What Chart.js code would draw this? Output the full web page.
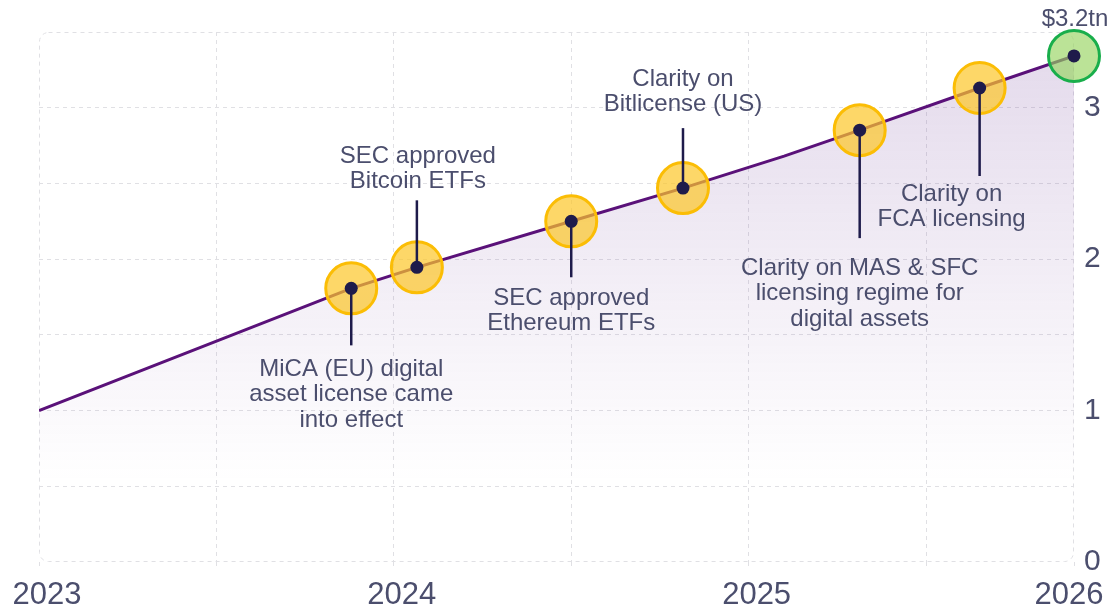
<!DOCTYPE html>
<html>
<head>
<meta charset="utf-8">
<script src="https://cdn.jsdelivr.net/npm/chart.js@4"></script>
<style>
  body { margin: 0; background: #ffffff; }
  #wrap { width: 1114px; height: 609px; }
</style>
</head>
<body>
<div id="wrap"><canvas id="marketChart" width="1114" height="609"></canvas></div>
<script>
// Market size line (trillions USD), x in decimal years
const lineYears = [2023.0, 2023.88, 2024.065, 2024.5, 2024.815, 2025.1, 2025.313, 2025.651, 2025.917];
const lineValues = [1.0, 1.807, 1.946, 2.25, 2.469, 2.68, 2.852, 3.13, 3.342];

// Regulatory milestones on the line
const eventYears = [2023.88, 2024.065, 2024.5, 2024.815, 2025.313, 2025.651, 2025.917];
const eventValues = [1.807, 1.946, 2.25, 2.469, 2.852, 3.13, 3.342];
const eventLabels = [
  ['MiCA (EU) digital', 'asset license came', 'into effect'],
  ['SEC approved', 'Bitcoin ETFs'],
  ['SEC approved', 'Ethereum ETFs'],
  ['Clarity on', 'Bitlicense (US)'],
  ['Clarity on MAS & SFC', 'licensing regime for', 'digital assets'],
  ['Clarity on', 'FCA licensing'],
  ['$3.2tn']
];

// Axis ticks
const xTickValues = [2023, 2023.5, 2024, 2024.5, 2025, 2025.5, 2025.917];
const xTickLabels = ['2023', '', '2024', '', '2025', '', '2026\u00a0\u00a0\u00a0'];
const yTickLabels = { 0: '0', 1: '1', 2: '2', 3: '3' };

// Callout placement (pixels relative to the dot)
const callouts = [
  { leader: 57, textY: 81, dx: 0 },
  { leader: -67, textY: -111, dx: 1 },
  { leader: 56, textY: 77, dx: 0 },
  { leader: -60, textY: -109, dx: 0 },
  { leader: 108, textY: 138, dx: 0 },
  { leader: 88, textY: 106, dx: -28 },
  { leader: 0, textY: -37, dx: 1 }
];

const textColor = '#4b4e6d';
const gridColor = '#e0e0e4';
const navy = '#1e1b4b';

Chart.defaults.font.family = "'Liberation Sans', Arial, sans-serif";
Chart.defaults.color = textColor;

// Dashed rounded frame round the plot area
const framePlugin = {
  id: 'frame',
  beforeDatasetsDraw(chart) {
    const { ctx, chartArea: a } = chart;
    ctx.save();
    ctx.strokeStyle = gridColor;
    ctx.lineWidth = 1;
    ctx.setLineDash([4, 4]);
    ctx.beginPath();
    ctx.roundRect(a.left + 0.5, a.top + 0.5, a.right - a.left - 1, a.bottom - a.top - 1, 9);
    ctx.stroke();
    ctx.restore();
  }
};

// Leader lines and milestone texts, drawn before the small dots
const calloutPlugin = {
  id: 'callouts',
  beforeDatasetDraw(chart, args) {
    if (args.index !== 2) return;
    const { ctx, scales } = chart;
    ctx.save();
    eventYears.forEach((yr, i) => {
      const px = scales.x.getPixelForValue(yr);
      const py = scales.y.getPixelForValue(eventValues[i]);
      const c = callouts[i];
      if (c.leader) {
        ctx.strokeStyle = navy;
        ctx.lineWidth = 2.5;
        ctx.beginPath();
        ctx.moveTo(px, py);
        ctx.lineTo(px, py + c.leader);
        ctx.stroke();
      }
      ctx.fillStyle = textColor;
      ctx.font = "24px 'Liberation Sans', Arial, sans-serif";
      ctx.textAlign = 'center';
      ctx.textBaseline = 'middle';
      eventLabels[i].forEach((line, j) => {
        ctx.fillText(line, px + c.dx, py + c.textY + j * 25.5);
      });
    });
    ctx.restore();
  }
};

const canvas = document.getElementById('marketChart');
const ctx = canvas.getContext('2d');

function areaFill(context) {
  const a = context.chart.chartArea;
  if (!a) return 'rgba(120, 70, 160, 0.15)';
  const g = context.chart.ctx.createLinearGradient(0, a.top, 0, a.bottom);
  g.addColorStop(0, 'rgba(115, 65, 155, 0.2)');
  g.addColorStop(0.85, 'rgba(115, 65, 155, 0)');
  g.addColorStop(1, 'rgba(115, 65, 155, 0)');
  return g;
}

const lastIdx = eventYears.length - 1;

new Chart(ctx, {
  type: 'line',
  data: {
    datasets: [
      {
        data: lineYears.map((x, i) => ({ x: x, y: lineValues[i] })),
        borderColor: '#5a1179',
        borderWidth: 3,
        backgroundColor: areaFill,
        fill: 'origin',
        pointRadius: 0,
        tension: 0,
        order: 3
      },
      {
        data: eventYears.map((x, i) => ({ x: x, y: eventValues[i] })),
        showLine: false,
        clip: false,
        pointRadius: 25.5,
        borderWidth: 3,
        backgroundColor: eventYears.map((_, i) => i === lastIdx ? 'rgba(150, 212, 95, 0.65)' : 'rgba(252, 198, 40, 0.7)'),
        borderColor: eventYears.map((_, i) => i === lastIdx ? '#19ae4b' : '#fbbd05'),
        order: 2
      },
      {
        data: eventYears.map((x, i) => ({ x: x, y: eventValues[i] })),
        showLine: false,
        clip: false,
        pointRadius: 6.5,
        borderWidth: 0,
        backgroundColor: navy,
        order: 1
      }
    ]
  },
  options: {
    responsive: false,
    animation: false,
    events: [],
    layout: { padding: { left: 39, top: 32, right: 0, bottom: 0 } },
    plugins: {
      legend: { display: false },
      tooltip: { enabled: false }
    },
    scales: {
      x: {
        type: 'linear',
        position: 'bottom',
        min: 2023,
        max: 2025.917,
        afterBuildTicks: (scale) => {
          scale.ticks = xTickValues.map(v => ({ value: v }));
        },
        afterFit: (scale) => {
          scale.height = 47;
          scale.paddingLeft = 0;
          scale.paddingRight = 0;
        },
        ticks: {
          autoSkip: false,
          maxRotation: 0,
          padding: 8,
          labelOffset: 8,
          font: { size: 31 },
          color: textColor,
          callback: (value, index) => xTickLabels[index]
        },
        border: { display: false, dash: [4, 4] },
        grid: {
          color: (c) => (c.index === 0 || c.index === xTickValues.length - 1) ? 'rgba(0,0,0,0)' : gridColor,
          tickColor: gridColor,
          tickLength: 7,
          tickBorderDash: [4, 4]
        }
      },
      y: {
        position: 'right',
        min: 0,
        max: 3.5,
        afterFit: (scale) => {
          scale.width = 40;
          scale.paddingTop = 0;
          scale.paddingBottom = 0;
        },
        ticks: {
          stepSize: 0.5,
          padding: 10,
          font: { size: 30 },
          color: textColor,
          callback: (value) => yTickLabels[value] || ''
        },
        border: { display: false, dash: [4, 4] },
        grid: {
          drawTicks: false,
          color: (c) => (c.tick && (c.tick.value === 0 || c.tick.value === 3.5)) ? 'rgba(0,0,0,0)' : gridColor
        }
      }
    }
  },
  plugins: [framePlugin, calloutPlugin]
});
</script>
</body>
</html>
